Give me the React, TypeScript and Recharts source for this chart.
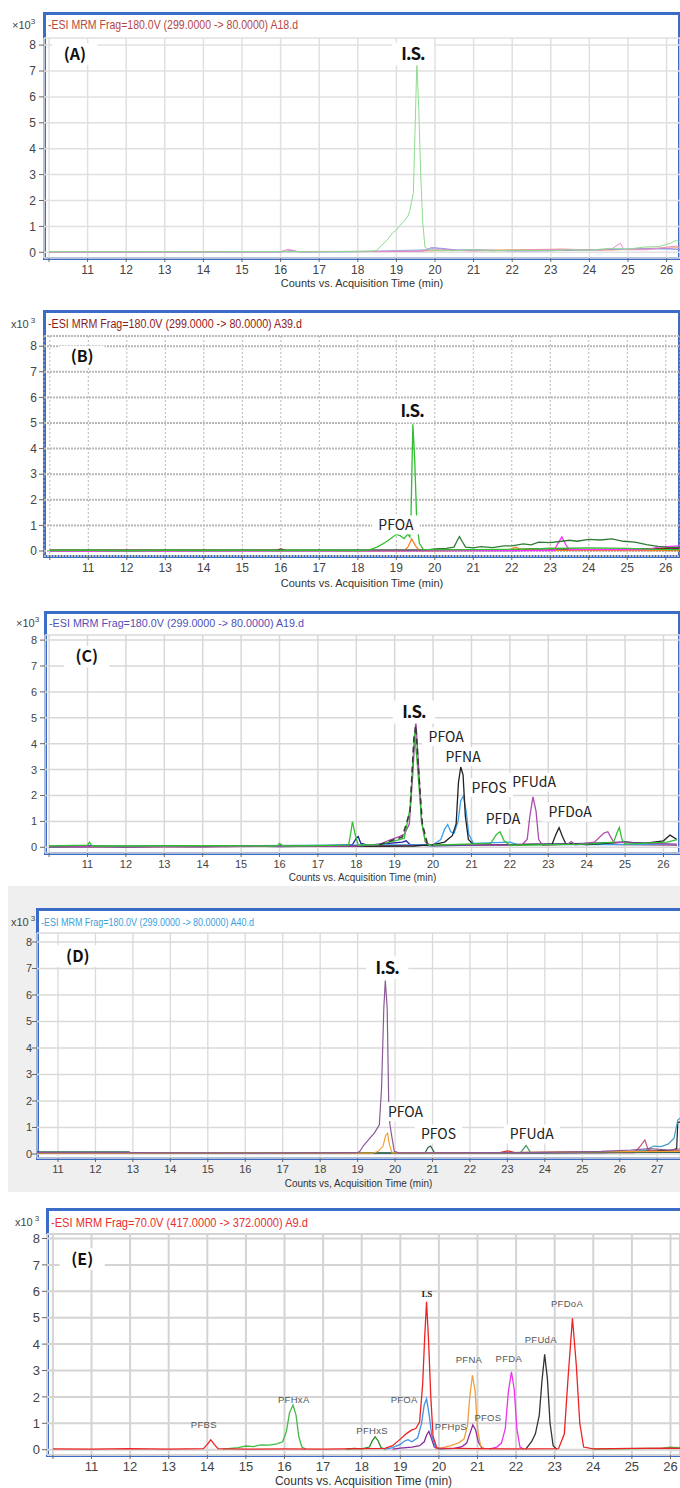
import React from "react";
import { LineChart, Line, XAxis, YAxis, CartesianGrid, ReferenceDot } from "recharts";

type Pt = [number, number];

// ---------- shared ticks (x 10^3 counts, minutes) ----------
const yTicks = [0, 1, 2, 3, 4, 5, 6, 7, 8];
const xTicks10to26 = [10, 11, 12, 13, 14, 15, 16, 17, 18, 19, 20, 21, 22, 23, 24, 25, 26];
const xTicks11to27 = [11, 12, 13, 14, 15, 16, 17, 18, 19, 20, 21, 22, 23, 24, 25, 26, 27];

// ---------- (A) ----------
const aIS: Pt[] = [[10, 0.02], [12, 0.03], [14, 0.02], [16, 0.03], [17, 0.02], [18, 0.04], [18.4, 0.05], [18.5, 0.08], [18.6, 0.25], [18.76, 0.47], [18.9, 0.75], [19.0, 0.86], [19.1, 1.05], [19.2, 1.2], [19.3, 1.4], [19.35, 1.63], [19.44, 2.3], [19.48, 4.5], [19.53, 7.36], [19.58, 5.5], [19.63, 3.0], [19.68, 1.2], [19.74, 0.2], [19.85, 0.08], [20.5, 0.06], [21, 0.1], [21.5, 0.05], [22, 0.08], [23, 0.06], [23.5, 0.1], [24, 0.08], [24.5, 0.15], [25, 0.12], [25.4, 0.2], [25.8, 0.22], [26.1, 0.35], [26.25, 0.47], [26.35, 0.35]];
const aPink: Pt[] = [[10, 0.01], [13, 0.02], [16, 0.03], [16.2, 0.12], [16.4, 0.03], [19.5, 0.04], [20, 0.1], [21, 0.05], [23.3, 0.12], [24.3, 0.08], [24.6, 0.15], [24.8, 0.35], [24.9, 0.1], [25.5, 0.1], [26, 0.2], [26.35, 0.25]];
const aLavender: Pt[] = [[10, 0.0], [16, 0.01], [16.3, 0.08], [16.5, 0.01], [19.7, 0.05], [19.9, 0.18], [20.2, 0.15], [20.6, 0.08], [21, 0.1], [22, 0.05], [23, 0.06], [24, 0.1], [25, 0.12], [26, 0.15], [26.35, 0.1]];
const aBlue: Pt[] = [[10, 0.03], [18, 0.02], [19.8, 0.1], [20, 0.17], [20.3, 0.1], [21, 0.08], [22.5, 0.06], [24, 0.09], [25.3, 0.13], [26.35, 0.12]];
const aOrange: Pt[] = [[10, 0.02], [19, 0.03], [20.5, 0.07], [22, 0.1], [23.3, 0.12], [24.5, 0.08], [25.5, 0.15], [26.35, 0.18]];

// ---------- (B) ----------
const bIS: Pt[] = [[10, 0.02], [11, 0.03], [12, 0.01], [13, 0.03], [14, 0.02], [15, 0.03], [16, 0.02], [17, 0.03], [18, 0.02], [18.3, 0.04], [18.5, 0.15], [18.7, 0.32], [18.85, 0.48], [19.0, 0.65], [19.1, 0.6], [19.2, 0.48], [19.3, 0.66], [19.35, 0.55], [19.38, 1.2], [19.43, 4.95], [19.48, 3.5], [19.53, 1.2], [19.6, 0.3], [19.7, 0.06], [20, 0.04], [21, 0.05], [22, 0.06], [23, 0.1], [24, 0.12], [25, 0.1], [26, 0.05], [26.35, 0.05]];
const bDarkGreen: Pt[] = [[10, 0.03], [19.8, 0.04], [20.0, 0.08], [20.3, 0.1], [20.5, 0.15], [20.58, 0.4], [20.64, 0.56], [20.72, 0.35], [20.8, 0.15], [21.0, 0.12], [21.2, 0.17], [21.5, 0.13], [21.8, 0.2], [22.0, 0.2], [22.3, 0.28], [22.5, 0.24], [22.7, 0.35], [23.0, 0.33], [23.3, 0.38], [23.5, 0.42], [23.7, 0.38], [24.0, 0.45], [24.3, 0.43], [24.6, 0.47], [24.9, 0.38], [25.2, 0.35], [25.5, 0.25], [25.8, 0.18], [26.1, 0.13], [26.35, 0.15]];
const bOrange: Pt[] = [[10, 0.01], [19.2, 0.02], [19.3, 0.15], [19.4, 0.47], [19.5, 0.2], [19.6, 0.02], [21.9, 0.03], [22.1, 0.15], [22.3, 0.03], [26.35, 0.02]];
const bMagenta: Pt[] = [[10, 0.0], [23.1, 0.02], [23.2, 0.3], [23.3, 0.55], [23.4, 0.25], [23.5, 0.05], [25.5, 0.05], [25.8, 0.15], [26.35, 0.2]];
const bDarkRed: Pt[] = [[10, 0.03], [15.9, 0.03], [16, 0.08], [16.1, 0.03], [20, 0.02], [22, 0.05], [23, 0.1], [24, 0.05], [25, 0.06], [26, 0.1], [26.35, 0.12]];
const bBlue: Pt[] = [[10, 0.01], [18, 0.02], [20, 0.03], [22, 0.02], [24, 0.05], [26, 0.08], [26.35, 0.1]];

// ---------- (C) ----------
const cPurple: Pt[] = [[10, 0.02], [12, 0.03], [14, 0.02], [16, 0.04], [18, 0.05], [18.6, 0.1], [18.9, 0.3], [19.1, 0.4], [19.25, 0.5], [19.38, 0.9], [19.47, 2.8], [19.55, 4.9], [19.62, 3.2], [19.7, 1.0], [19.8, 0.2], [19.95, 0.08], [21, 0.1], [22.3, 0.08], [22.45, 0.3], [22.52, 1.2], [22.6, 1.95], [22.68, 1.4], [22.75, 0.3], [22.85, 0.08], [23.5, 0.12], [23.6, 0.22], [23.7, 0.1], [24.2, 0.2], [24.45, 0.55], [24.55, 0.6], [24.7, 0.2], [25.5, 0.15], [26.35, 0.12]];
const cGreen: Pt[] = [[10, 0.05], [11.0, 0.08], [11.05, 0.2], [11.12, 0.05], [14, 0.06], [15.95, 0.05], [16.0, 0.15], [16.1, 0.05], [17.8, 0.08], [17.86, 0.6], [17.9, 0.99], [17.97, 0.5], [18.05, 0.08], [18.6, 0.1], [19.0, 0.25], [19.25, 0.35], [19.4, 1.5], [19.52, 4.4], [19.6, 3.0], [19.7, 1.0], [19.8, 0.2], [19.9, 0.08], [21.5, 0.15], [21.65, 0.5], [21.74, 0.6], [21.85, 0.25], [22.0, 0.08], [24.0, 0.12], [24.7, 0.2], [24.8, 0.6], [24.85, 0.76], [24.92, 0.3], [25.0, 0.12], [26.1, 0.2], [26.35, 0.3]];
const cDashed: Pt[] = [[18.6, 0.1], [19.0, 0.3], [19.2, 0.4], [19.4, 1.4], [19.5, 4.2], [19.55, 4.7], [19.62, 3.0], [19.72, 0.9], [19.85, 0.15], [20.0, 0.08]];
const cBlack: Pt[] = [[10, 0.03], [18, 0.04], [19.5, 0.05], [20.0, 0.1], [20.3, 0.2], [20.5, 0.45], [20.6, 0.9], [20.66, 2.5], [20.72, 3.1], [20.78, 2.8], [20.84, 1.2], [20.92, 0.3], [21.05, 0.1], [22.0, 0.1], [23.1, 0.12], [23.2, 0.5], [23.28, 0.76], [23.36, 0.45], [23.45, 0.15], [24, 0.1], [25, 0.2], [25.5, 0.15], [26.0, 0.25], [26.17, 0.47], [26.3, 0.35], [26.35, 0.3]];
const cLightBlue: Pt[] = [[10, 0.02], [20.0, 0.1], [20.2, 0.3], [20.3, 0.7], [20.38, 0.88], [20.46, 0.6], [20.55, 0.55], [20.65, 1.0], [20.72, 1.8], [20.79, 1.98], [20.86, 1.4], [20.93, 0.5], [21.05, 0.15], [22.0, 0.2], [22.2, 0.1], [26.35, 0.1]];
const cDarkBlue: Pt[] = [[10, 0.03], [11, 0.05], [12, 0.02], [13, 0.04], [14, 0.03], [15, 0.06], [16, 0.03], [17, 0.05], [17.9, 0.1], [18.0, 0.35], [18.05, 0.41], [18.12, 0.15], [18.3, 0.08], [19.2, 0.2], [19.3, 0.25], [19.4, 0.1], [20, 0.06], [21, 0.08], [22, 0.1], [23, 0.12], [24, 0.15], [25, 0.2], [26, 0.12], [26.35, 0.1]];
const cRed: Pt[] = [[10, 0.02], [15, 0.04], [18, 0.05], [20, 0.08], [22, 0.1], [24, 0.12], [25, 0.1], [26.35, 0.08]];

// ---------- (D) ----------
const dPurple: Pt[] = [[10.4, 0.05], [13, 0.05], [16, 0.03], [19.0, 0.05], [19.06, 0.1], [19.15, 0.3], [19.3, 0.55], [19.45, 0.8], [19.58, 1.1], [19.64, 2.5], [19.7, 5.5], [19.74, 6.55], [19.79, 5.5], [19.83, 2.0], [19.86, 1.15], [19.92, 0.6], [19.98, 0.1], [20.1, 0.04], [22, 0.05], [24, 0.06], [25.5, 0.1], [26.3, 0.15], [26.8, 0.2], [27.3, 0.15], [27.7, 0.2]];
const dOrange: Pt[] = [[10.4, 0.03], [19.4, 0.03], [19.55, 0.1], [19.68, 0.3], [19.75, 0.7], [19.8, 0.78], [19.85, 0.35], [19.92, 0.04], [23, 0.05], [25, 0.08], [27.7, 0.1]];
const dTeal: Pt[] = [[10.4, 0.08], [12.9, 0.08], [12.95, 0.02], [20.8, 0.04], [20.88, 0.25], [20.95, 0.3], [21.05, 0.05], [27.7, 0.06]];
const dGreen: Pt[] = [[10.4, 0.04], [23.35, 0.05], [23.5, 0.32], [23.62, 0.05], [27.7, 0.08]];
const dPink: Pt[] = [[10.4, 0.02], [26.4, 0.05], [26.55, 0.3], [26.67, 0.53], [26.75, 0.2], [26.85, 0.1], [27.7, 0.1]];
const dLightBlue: Pt[] = [[10.4, 0.02], [25.5, 0.04], [26.4, 0.1], [26.7, 0.15], [26.9, 0.3], [27.1, 0.28], [27.3, 0.38], [27.45, 0.6], [27.55, 1.28], [27.7, 1.45]];
const dBlack: Pt[] = [[10.4, 0.03], [24, 0.04], [26, 0.08], [27.0, 0.12], [27.4, 0.15], [27.52, 0.2], [27.55, 1.2], [27.7, 1.2]];
const dRed: Pt[] = [[10.4, 0.03], [22.8, 0.05], [23, 0.12], [23.2, 0.05], [25, 0.08], [26, 0.1], [27.7, 0.12]];

// ---------- (E) ----------
const eRed: Pt[] = [[10, 0.03], [11, 0.02], [12, 0.04], [13, 0.02], [13.9, 0.04], [14.0, 0.2], [14.09, 0.37], [14.18, 0.2], [14.28, 0.04], [15, 0.02], [16, 0.03], [17, 0.02], [18, 0.04], [18.6, 0.05], [18.8, 0.15], [19.0, 0.4], [19.15, 0.6], [19.3, 0.75], [19.4, 0.8], [19.5, 1.05], [19.58, 2.5], [19.63, 4.2], [19.68, 5.6], [19.73, 4.2], [19.79, 2.0], [19.85, 0.5], [19.95, 0.06], [21, 0.04], [22, 0.03], [23.1, 0.04], [23.25, 0.6], [23.35, 2.8], [23.46, 4.98], [23.56, 3.2], [23.65, 1.0], [23.75, 0.1], [24, 0.03], [25, 0.05], [26, 0.06], [26.35, 0.05]];
const eBlue: Pt[] = [[18.6, 0.02], [18.8, 0.08], [19.0, 0.2], [19.1, 0.32], [19.2, 0.38], [19.3, 0.3], [19.45, 0.45], [19.55, 1.0], [19.62, 1.7], [19.68, 1.92], [19.74, 1.4], [19.82, 0.5], [19.92, 0.08], [20.1, 0.02]];
const ePurple: Pt[] = [[18.8, 0.02], [19.0, 0.06], [19.3, 0.1], [19.5, 0.15], [19.62, 0.3], [19.68, 0.55], [19.74, 0.7], [19.8, 0.45], [19.88, 0.1], [20.0, 0.03], [20.4, 0.05], [20.6, 0.12], [20.72, 0.25], [20.8, 0.6], [20.88, 0.94], [20.95, 0.75], [21.02, 0.3], [21.12, 0.04]];
const eOrange: Pt[] = [[19.9, 0.02], [20.1, 0.08], [20.3, 0.15], [20.5, 0.25], [20.65, 0.4], [20.74, 0.9], [20.8, 2.0], [20.87, 2.83], [20.94, 2.2], [21.0, 0.8], [21.08, 0.15], [21.2, 0.02]];
const eMagenta: Pt[] = [[21.3, 0.02], [21.5, 0.1], [21.62, 0.25], [21.72, 0.8], [21.8, 2.2], [21.88, 2.95], [21.95, 2.3], [22.02, 0.8], [22.1, 0.1], [22.2, 0.02]];
const eBlack: Pt[] = [[22.25, 0.02], [22.4, 0.3], [22.5, 0.6], [22.6, 1.3], [22.67, 2.6], [22.74, 3.61], [22.81, 2.7], [22.88, 1.0], [22.96, 0.15], [23.05, 0.02]];
const eGreen: Pt[] = [[14.4, 0.02], [14.6, 0.05], [14.8, 0.08], [15.0, 0.14], [15.2, 0.12], [15.4, 0.18], [15.6, 0.17], [15.8, 0.22], [15.95, 0.3], [16.05, 0.7], [16.13, 1.4], [16.22, 1.69], [16.3, 1.3], [16.37, 0.5], [16.45, 0.1], [16.55, 0.02]];
const eDarkGreen: Pt[] = [[17.6, 0.02], [17.8, 0.05], [18.0, 0.03], [18.2, 0.1], [18.28, 0.35], [18.35, 0.49], [18.42, 0.35], [18.5, 0.08], [18.6, 0.02]];
const eTail: Pt[] = [[24, 0.02], [25, 0.04], [25.8, 0.06], [26.0, 0.1], [26.2, 0.08], [26.35, 0.1]];

// ---------- panel setup ----------
type NoteKind = "tag" | "is" | "peak" | "small" | "isSmall";
interface Note { text: string; t: number; v: number; kind: NoteKind }
interface Trace { pts: Pt[]; color: string; dash?: string }
interface Grid { stroke: string; width: number; dash?: string; vStroke?: string; vWidth?: number; vDash?: string }
interface PanelCfg {
  a: number; b: number; c: number; d: number; // minute 11 x-pixel, px/min, zero y-pixel, px/unit
  boxL: number; boxT: number; boxB: number; boxR: number; plotT: number;
  headerY: number; header: string; headerColor: string; headerW: number; headerSize: number;
  expX: number; titleY: number; title: string; titleSize: number; tickSize: number;
  yMargin: number; xTicks: number[]; grid: Grid; lineW: number;
  traces: Trace[]; notes: Note[];
}

const NARROW = "'Liberation Sans Narrow', 'Arial Narrow', 'Liberation Sans', sans-serif";
const KR = "'Noto Sans CJK KR', 'Noto Sans', sans-serif";

const noteStyles: Record<NoteKind, { font: string; weight: number; size: number; fill: string; box: boolean; pad: number; wf: number; ls: number }> = {
  tag: { font: KR, weight: 700, size: 16, fill: "#111", box: true, pad: 8, wf: 0.4, ls: 0 },
  is: { font: KR, weight: 700, size: 17, fill: "#111", box: true, pad: 6, wf: 0.3, ls: -1 },
  peak: { font: KR, weight: 400, size: 14, fill: "#222", box: true, pad: 2, wf: 0.6, ls: 0 },
  small: { font: "'Liberation Sans', sans-serif", weight: 400, size: 9.5, fill: "#555", box: false, pad: 0, wf: 0.6, ls: 0.3 },
  isSmall: { font: "'Liberation Serif', serif", weight: 700, size: 9, fill: "#222", box: false, pad: 0, wf: 0.6, ls: 0 },
};

const panels: PanelCfg[] = [
  {
    a: 87.6, b: 38.6, c: 252.3, d: 25.9, boxL: 44, boxT: 13, boxB: 258, boxR: 679, plotT: 38,
    headerY: 25, header: "-ESI MRM Frag=180.0V  (299.0000 -> 80.0000) A18.d", headerColor: "#b5473f", headerW: 250, headerSize: 12,
    expX: 12, titleY: 283, title: "Counts vs. Acquisition Time (min)", titleSize: 11, tickSize: 12, yMargin: 3,
    xTicks: xTicks10to26, grid: { stroke: "#e0e0e0", width: 1.5 }, lineW: 1,
    traces: [
      { pts: aOrange, color: "#e8b070" }, { pts: aBlue, color: "#8cb4e8" }, { pts: aLavender, color: "#a78bd8" },
      { pts: aPink, color: "#f08cc8" }, { pts: aIS, color: "#8fdc8f" },
    ],
    notes: [{ text: "(A)", t: 10.67, v: 7.66, kind: "tag" }, { text: "I.S.", t: 19.43, v: 7.66, kind: "is" }],
  },
  {
    a: 88.3, b: 38.5, c: 551, d: 25.6, boxL: 44, boxT: 311, boxB: 556, boxR: 679, plotT: 336,
    headerY: 324, header: "-ESI MRM Frag=180.0V (299.0000 -> 80.0000) A39.d", headerColor: "#8b1c1c", headerW: 254, headerSize: 12,
    expX: 11, titleY: 583, title: "Counts vs. Acquisition Time (min)", titleSize: 11, tickSize: 12, yMargin: 2,
    xTicks: xTicks10to26, grid: { stroke: "#b8b8b8", width: 2, dash: "2 1", vStroke: "#b8b8b8", vWidth: 1, vDash: "2 2" }, lineW: 1.3,
    traces: [
      { pts: bBlue, color: "#3030c0" }, { pts: bDarkRed, color: "#8b1a1a" }, { pts: bOrange, color: "#ff7f27" },
      { pts: bMagenta, color: "#ff33ff" }, { pts: bDarkGreen, color: "#2e7d32" }, { pts: bIS, color: "#2fbf2f" },
    ],
    notes: [
      { text: "(B)", t: 10.84, v: 7.59, kind: "tag" }, { text: "I.S.", t: 19.41, v: 5.47, kind: "is" },
      { text: "PFOA", t: 18.99, v: 1.02, kind: "peak" },
    ],
  },
  {
    a: 87.5, b: 38.4, c: 847.3, d: 25.9, boxL: 45, boxT: 612, boxB: 853, boxR: 679, plotT: 635,
    headerY: 623, header: "-ESI MRM Frag=180.0V (299.0000 -> 80.0000) A19.d", headerColor: "#5050b8", headerW: 255, headerSize: 11,
    expX: 16, titleY: 877, title: "Counts vs. Acquisition Time (min)", titleSize: 10, tickSize: 11, yMargin: 3,
    xTicks: xTicks10to26, grid: { stroke: "#d8d8d8", width: 1.5 }, lineW: 1.3,
    traces: [
      { pts: cRed, color: "#e03030" }, { pts: cDarkBlue, color: "#2020a0" }, { pts: cLightBlue, color: "#3aa0f0" },
      { pts: cBlack, color: "#202020" }, { pts: cPurple, color: "#b04ab0" }, { pts: cGreen, color: "#30c030" },
      { pts: cDashed, color: "#3a3a3a", dash: "6 4" },
    ],
    notes: [
      { text: "(C)", t: 10.98, v: 7.36, kind: "tag" }, { text: "I.S.", t: 19.5, v: 5.22, kind: "is" },
      { text: "PFOA", t: 20.34, v: 4.27, kind: "peak" }, { text: "PFNA", t: 20.78, v: 3.5, kind: "peak" },
      { text: "PFOS", t: 21.46, v: 2.3, kind: "peak" }, { text: "PFUdA", t: 22.63, v: 2.52, kind: "peak" },
      { text: "PFDA", t: 21.82, v: 1.09, kind: "peak" }, { text: "PFDoA", t: 23.57, v: 1.36, kind: "peak" },
    ],
  },
  {
    a: 58, b: 37.45, c: 1154, d: 26.5, boxL: 37, boxT: 909, boxB: 1158, boxR: 700, plotT: 933,
    headerY: 922, header: "-ESI MRM Frag=180.0V (299.0000 -> 80.0000) A40.d", headerColor: "#3ca0e0", headerW: 213, headerSize: 10,
    expX: 11, titleY: 1183, title: "Counts vs, Acquisition Time (min)", titleSize: 10, tickSize: 11, yMargin: 0,
    xTicks: xTicks11to27, grid: { stroke: "#dadada", width: 1.3 }, lineW: 1.2,
    traces: [
      { pts: dRed, color: "#d03030" }, { pts: dBlack, color: "#222" }, { pts: dLightBlue, color: "#40a0c8" },
      { pts: dPink, color: "#c0507a" }, { pts: dGreen, color: "#3a9a5a" }, { pts: dTeal, color: "#2e6058" },
      { pts: dOrange, color: "#f0a030" }, { pts: dPurple, color: "#8a5a96" },
    ],
    notes: [
      { text: "(D)", t: 11.53, v: 7.47, kind: "tag" }, { text: "I.S.", t: 19.79, v: 7.03, kind: "is" },
      { text: "PFOA", t: 20.28, v: 1.6, kind: "peak" }, { text: "PFOS", t: 21.16, v: 0.75, kind: "peak" },
      { text: "PFUdA", t: 23.65, v: 0.75, kind: "peak" },
    ],
  },
  {
    a: 91.5, b: 38.6, c: 1449.7, d: 26.4, boxL: 47, boxT: 1209, boxB: 1455, boxR: 700, plotT: 1234,
    headerY: 1222, header: "-ESI MRM Frag=70.0V (417.0000 -> 372.0000) A9.d", headerColor: "#e83030", headerW: 257, headerSize: 13,
    expX: 15, titleY: 1481, title: "Counts vs. Acquisition Time (min)", titleSize: 12, tickSize: 13, yMargin: 2,
    xTicks: xTicks10to26, grid: { stroke: "#d4d4d4", width: 2 }, lineW: 1.3,
    traces: [
      { pts: eTail, color: "#44bb44" }, { pts: eDarkGreen, color: "#2a8a2a" }, { pts: eGreen, color: "#44bb44" },
      { pts: ePurple, color: "#8a2aa0" }, { pts: eOrange, color: "#f0a040" }, { pts: eMagenta, color: "#ee33ee" },
      { pts: eBlack, color: "#333" }, { pts: eBlue, color: "#3d8fe8" }, { pts: eRed, color: "#ee2222" },
    ],
    notes: [
      { text: "(E)", t: 10.76, v: 7.23, kind: "tag" }, { text: "I.S", t: 19.69, v: 5.92, kind: "isSmall" },
      { text: "PFBS", t: 13.91, v: 0.94, kind: "small" }, { text: "PFHxA", t: 16.24, v: 1.88, kind: "small" },
      { text: "PFHxS", t: 18.27, v: 0.71, kind: "small" }, { text: "PFOA", t: 19.1, v: 1.88, kind: "small" },
      { text: "PFHpS", t: 20.31, v: 0.87, kind: "small" }, { text: "PFOS", t: 21.27, v: 1.21, kind: "small" },
      { text: "PFNA", t: 20.78, v: 3.4, kind: "small" }, { text: "PFDA", t: 21.81, v: 3.46, kind: "small" },
      { text: "PFUdA", t: 22.64, v: 4.19, kind: "small" }, { text: "PFDoA", t: 23.32, v: 5.55, kind: "small" },
    ],
  },
];

const noteShape = (n: Note) => (p: any) => {
  const st = noteStyles[n.kind];
  const w = n.text.length * st.size * st.wf + st.pad * 2 + 10;
  const h = st.size * 1.35;
  return (
    <g>
      {st.box && <rect x={p.cx - w / 2} y={p.cy - h / 2} width={w} height={h} fill="#fff" />}
      <text x={p.cx} y={p.cy} dy="0.36em" textAnchor="middle" fontFamily={st.font} fontWeight={st.weight}
        fontSize={st.size} fill={st.fill} letterSpacing={st.ls}>{n.text}</text>
    </g>
  );
};

const Panel = ({ p }: { p: PanelCfg }) => {
  const yW = 30;
  const topRoom = 10; // space above the plot so the top tick label is not clipped
  const xMin = 11 + (p.boxL - p.a) / p.b;
  const xMax = 11 + (680 - p.a) / p.b;
  const yMax = (p.c - p.plotT) / p.d;
  const yMin = (p.c - p.boxB) / p.d;
  // room below the baseline of the axis title so descenders are not clipped
  const pad = 5;
  const axisH = p.titleY + p.titleSize * 0.36 + pad - p.boxB;
  const tickFont = { fontSize: p.tickSize, fill: "#444", fontFamily: NARROW };
  return (
    <div style={{ position: "absolute", left: 0, top: p.plotT - topRoom }}>
      <LineChart width={680} height={p.boxB - p.plotT + axisH + topRoom}
        margin={{ top: topRoom, right: 0, bottom: 0, left: p.boxL - yW }}>
        <CartesianGrid vertical={false} stroke={p.grid.stroke} strokeWidth={p.grid.width} strokeDasharray={p.grid.dash} />
        <CartesianGrid horizontal={false} stroke={p.grid.vStroke ?? p.grid.stroke}
          strokeWidth={p.grid.vWidth ?? p.grid.width} strokeDasharray={p.grid.vDash ?? p.grid.dash} />
        <XAxis type="number" dataKey="t" domain={[xMin, xMax]} allowDataOverflow ticks={p.xTicks} interval={0}
          axisLine={false} tickSize={4} tickMargin={3} tickLine={{ stroke: "#666" }} height={axisH}
          tickFormatter={(v: number) => (v === 10 ? "" : String(v))} tick={tickFont}
          label={{ value: p.title, position: "insideBottom", offset: pad, fill: "#333", fontSize: p.titleSize, fontFamily: NARROW }} />
        <YAxis type="number" domain={[yMin, yMax]} allowDataOverflow ticks={yTicks} interval={0} width={yW}
          axisLine={false} tickSize={5} tickMargin={p.yMargin} tickLine={{ stroke: "#666" }} tick={tickFont} />
        {p.traces.map((tr, i) => (
          <Line key={i} data={tr.pts.map(([t, v]) => ({ t, v }))} dataKey="v" type="linear" stroke={tr.color}
            strokeWidth={tr.dash ? 1.6 : p.lineW} strokeDasharray={tr.dash} dot={false} activeDot={false}
            isAnimationActive={false} />
        ))}
        {p.notes.map((n, i) => (
          <ReferenceDot key={"n" + i} x={n.t} y={n.v} r={1} shape={noteShape(n)} />
        ))}
      </LineChart>
    </div>
  );
};

const App = () => (
  <div style={{ position: "absolute", left: 0, top: 0, width: 680, height: 1488, overflow: "hidden", background: "#fff" }}>
    <div style={{ position: "absolute", left: 8, top: 886, width: 672, height: 306, background: "#efefef" }} />
    {panels.map((p, i) => (
      <div key={"box" + i} style={{
        position: "absolute", left: p.boxL - 1.5, top: p.boxT - 1.5, width: p.boxR - p.boxL + 3,
        height: p.boxB - p.boxT + 3, border: "3px solid #3a6cc8", boxSizing: "border-box", background: "#fff",
      }} />
    ))}
    {panels.map((p, i) => <Panel key={"p" + i} p={p} />)}
    <svg width={680} height={1488} style={{ position: "absolute", left: 0, top: 0, pointerEvents: "none" }}>
      {panels.map((p, i) => (
        <g key={"h" + i}>
          <text x={p.boxL + 4} y={p.headerY} dy="0.36em" fontFamily={NARROW} fontSize={p.headerSize}
            fill={p.headerColor} textLength={p.headerW} lengthAdjust="spacingAndGlyphs">{p.header}</text>
          <text x={p.expX} y={p.headerY} dy="0.36em" fontFamily={NARROW} fontSize={11} fill="#444">
            {i === 0 || i === 2 ? "×10" : "x10"}
            <tspan dy={-5} dx={i === 0 || i === 2 ? 0 : 2} fontSize={8}>3</tspan>
          </text>
        </g>
      ))}
    </svg>
  </div>
);

export default App;
